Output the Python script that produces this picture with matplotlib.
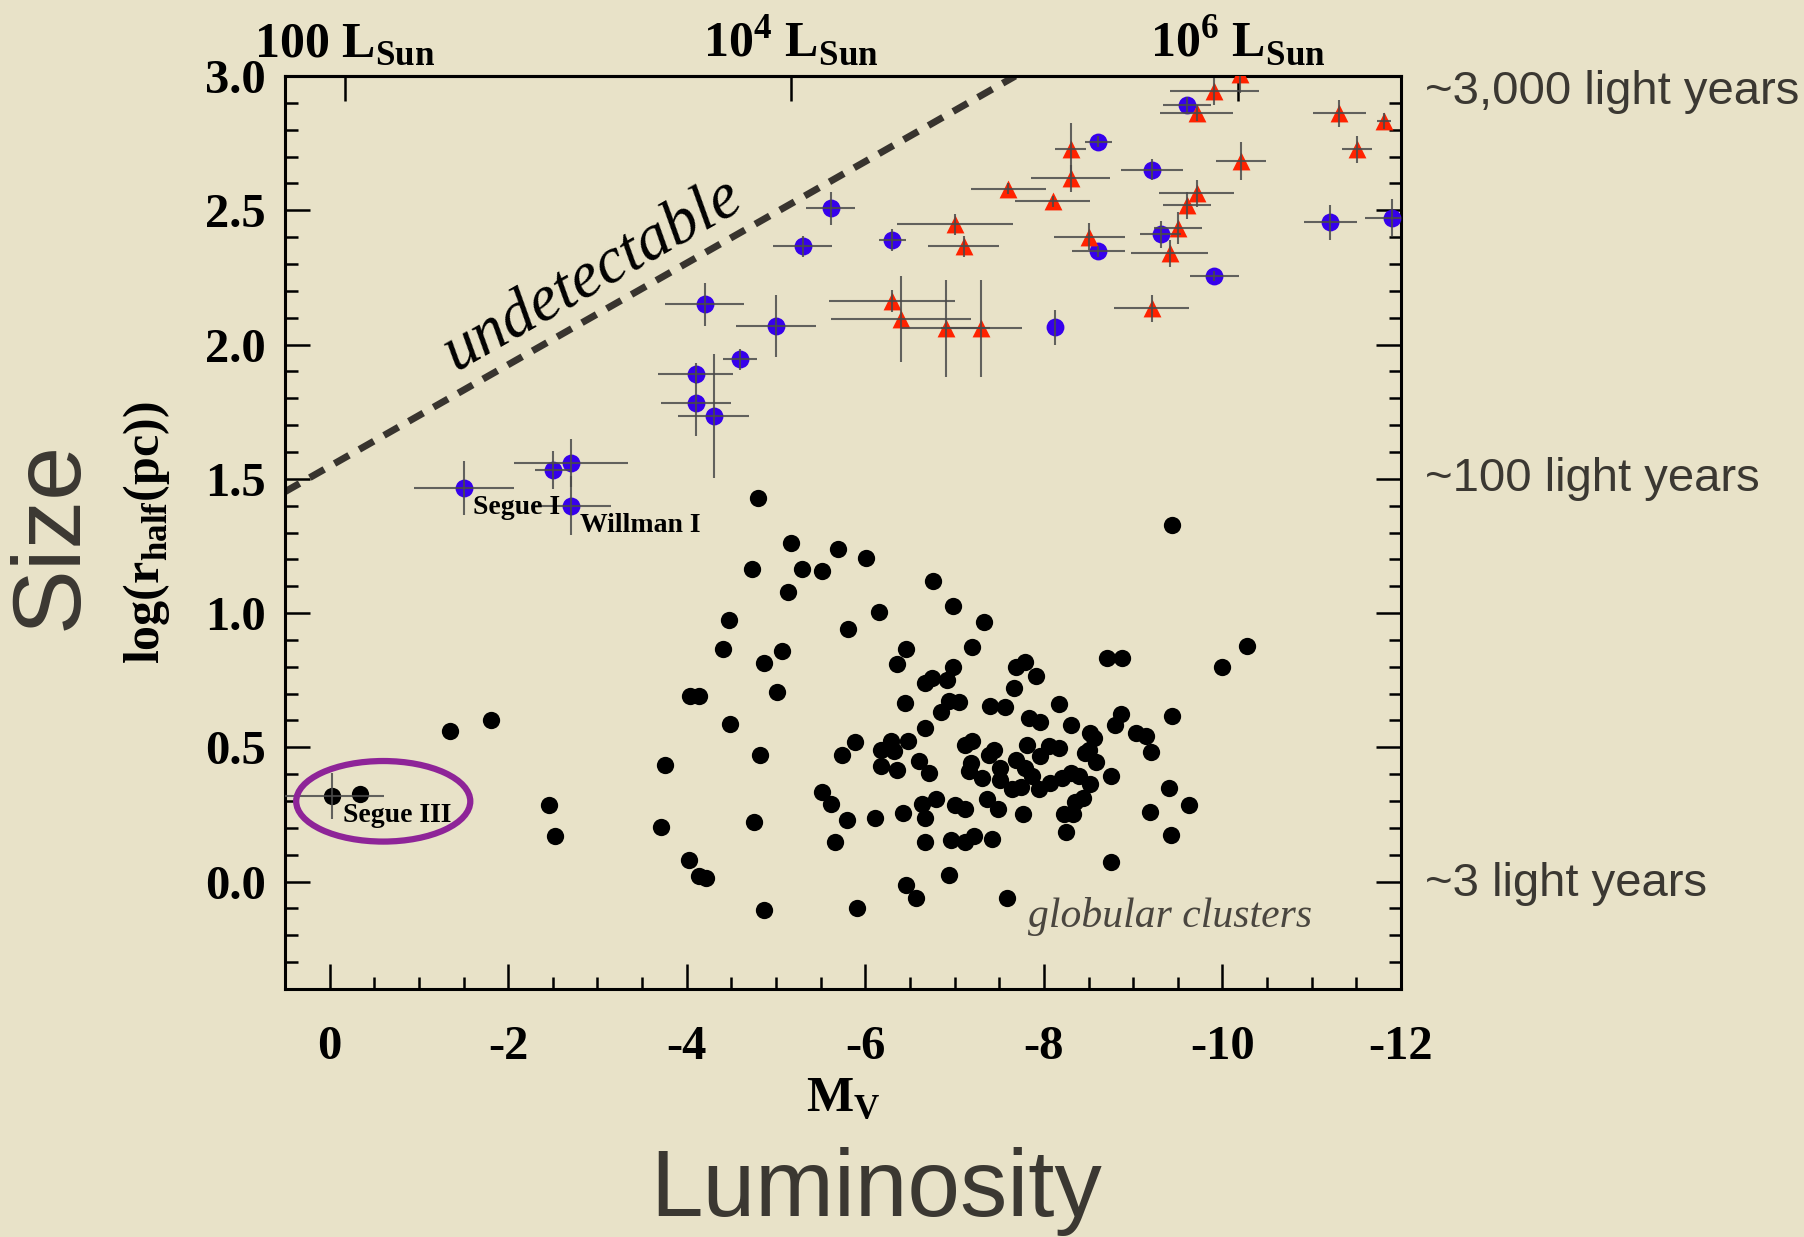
import numpy as np
import matplotlib.pyplot as plt
from matplotlib.patches import Ellipse
from matplotlib.ticker import MultipleLocator, FormatStrFormatter

plt.rcParams['mathtext.fontset'] = 'custom'
plt.rcParams['mathtext.rm'] = 'Liberation Serif:bold'
plt.rcParams['mathtext.bf'] = 'Liberation Serif:bold'

# --- data ----------------------------------------------------------------
# dwarf galaxies (blue circles): Mv, log r_half, errors
dw_mv = [-1.50, -2.50, -2.70, -2.70, -4.10, -4.30, -4.10, -4.20, -4.60, -5.00, -5.30,
         -5.61, -6.30, -8.12, -8.61, -8.61, -9.21, -9.31, -9.60, -9.91, -11.21, -11.90]
dw_logr = [1.465, 1.533, 1.560, 1.399, 1.781, 1.734, 1.892, 2.150, 1.945, 2.069, 2.366,
           2.507, 2.389, 2.065, 2.755, 2.347, 2.652, 2.410, 2.892, 2.255, 2.455, 2.473]
dw_xerr = [0.56, 0.20, 0.64, 0.45, 0.39, 0.40, 0.42, 0.44, 0.19, 0.45, 0.33,
           0.27, 0.15, 0.0, 0.15, 0.30, 0.35, 0.23, 0.27, 0.27, 0.30, 0.30]
dw_yerr = [0.10, 0.07, 0.09, 0.11, 0.12, 0.23, 0.04, 0.08, 0.04, 0.115, 0.04,
           0.06, 0.04, 0.065, 0.02, 0.02, 0.04, 0.05, 0.03, 0.02, 0.065, 0.07]

# red triangles
tri_mv = [-6.30, -6.40, -6.90, -7.30, -7.00, -7.10, -7.60, -8.10, -8.30, -8.30, -8.51,
          -9.91, -10.20, -9.71, -11.31, -11.81, -11.51, -10.21, -9.71, -9.60, -9.50,
          -9.41, -9.21]
tri_logr = [2.162, 2.094, 2.060, 2.060, 2.448, 2.366, 2.581, 2.534, 2.727, 2.619, 2.402,
            2.944, 3.006, 2.864, 2.861, 2.832, 2.727, 2.683, 2.564, 2.518, 2.435,
            2.340, 2.135]
tri_xerr = [0.71, 0.78, 0.50, 0.45, 0.65, 0.40, 0.42, 0.42, 0.17, 0.44, 0.40,
            0.50, 0.0, 0.41, 0.30, 0.08, 0.17, 0.28, 0.42, 0.27, 0.27, 0.43, 0.42]
tri_yerr = [0.04, 0.16, 0.18, 0.18, 0.04, 0.04, 0.02, 0.02, 0.10, 0.05, 0.05,
            0.05, 0.07, 0.03, 0.05, 0.03, 0.05, 0.07, 0.05, 0.05, 0.06, 0.05, 0.05]

# Segue III
seg3_mv = [-0.03, -0.34]
seg3_logr = [0.318, 0.328]
seg3_xerr = [0.58, 0.0]
seg3_yerr = [0.085, 0.0]

# globular clusters
gc_mv = [-1.35, -1.81, -2.46, -2.52, -3.76, -3.71, -4.02, -4.14, -4.21, -4.04, -4.14,
         -4.80, -5.17, -4.73, -5.29, -5.51, -5.69, -6.01, -5.13, -6.76, -6.98, -6.15,
         -5.81, -4.47, -4.41, -5.07, -4.87, -5.01, -6.46, -6.35, -7.20, -6.98, -6.75,
         -6.67, -6.92, -6.44, -6.94, -7.05, -6.85, -6.67, -4.48, -4.82, -5.88, -5.74,
         -6.29, -6.17, -6.32, -6.48, -6.17, -6.36, -6.60, -6.71, -5.51, -5.61, -5.79,
         -6.11, -6.42, -6.64, -6.79, -6.67, -7.00, -7.12, -4.75, -5.66, -6.67, -6.96,
         -7.12, -6.94, -6.45, -6.57, -4.86, -5.91, -9.43, -7.33, -7.69, -7.79, -7.91,
         -7.67, -8.71, -8.88, -10.27, -9.99, -8.17, -7.40, -7.57, -8.86, -8.80, -9.43,
         -7.83, -7.96, -8.30, -8.52, -8.56, -9.03, -9.14, -9.20, -7.20, -7.12, -7.44,
         -7.38, -7.81, -8.06, -8.17, -7.69, -7.96, -8.46, -8.50, -8.58, -7.18, -7.16,
         -7.51, -7.51, -7.31, -7.64, -7.74, -7.87, -7.79, -7.95, -8.07, -8.20, -8.30,
         -8.39, -8.52, -8.75, -7.36, -7.49, -7.77, -8.35, -8.44, -8.22, -8.33, -8.25,
         -9.40, -9.63, -9.19, -9.42, -8.75, -7.59, -7.22, -7.42]
gc_logr = [0.559, 0.602, 0.284, 0.170, 0.433, 0.205, 0.081, 0.020, 0.015, 0.691, 0.691,
           1.430, 1.262, 1.163, 1.163, 1.156, 1.239, 1.204, 1.077, 1.118, 1.026, 1.004,
           0.941, 0.974, 0.868, 0.858, 0.813, 0.705, 0.866, 0.810, 0.873, 0.800, 0.757,
           0.739, 0.751, 0.665, 0.674, 0.668, 0.630, 0.572, 0.587, 0.473, 0.519, 0.473,
           0.522, 0.491, 0.485, 0.522, 0.430, 0.417, 0.448, 0.403, 0.333, 0.288, 0.229,
           0.237, 0.254, 0.288, 0.306, 0.235, 0.284, 0.269, 0.223, 0.146, 0.146, 0.154,
           0.146, 0.024, -0.013, -0.060, -0.105, -0.099, 1.328, 0.967, 0.798, 0.817, 0.767,
           0.720, 0.831, 0.831, 0.877, 0.798, 0.660, 0.655, 0.650, 0.625, 0.584, 0.617,
           0.609, 0.593, 0.584, 0.553, 0.535, 0.553, 0.541, 0.481, 0.522, 0.507, 0.491,
           0.473, 0.510, 0.504, 0.498, 0.454, 0.467, 0.479, 0.491, 0.444, 0.442, 0.411,
           0.424, 0.380, 0.387, 0.343, 0.353, 0.392, 0.424, 0.343, 0.368, 0.387, 0.403,
           0.392, 0.362, 0.395, 0.306, 0.272, 0.253, 0.296, 0.312, 0.251, 0.251, 0.186,
           0.349, 0.284, 0.259, 0.174, 0.074, -0.061, 0.170, 0.160]

# detection limit (dashed line)
limit_mv = [0.5, -7.68]
limit_logr = [1.452, 3.0]

# top axis: luminosities
lum_values = [100, 1e4, 1e6]
lum_labels = ['100 L$_{\\mathrm{Sun}}$', '10$^{\\mathrm{4}}$ L$_{\\mathrm{Sun}}$',
              '10$^{\\mathrm{6}}$ L$_{\\mathrm{Sun}}$']

# physical size annotations on the right
size_text = ['~3,000 light years', '~100 light years', '~3 light years']
size_logr = [2.94, 1.50, -0.01]

# --- figure -----------------------------------------------------------------
bg = '#e8e2c8'
ink = '#3b3832'
serif = 'Liberation Serif'
sans = ['Liberation Sans Narrow', 'Liberation Sans']

fig = plt.figure(figsize=(18.04, 12.37), dpi=100, facecolor=bg)
ax = fig.add_axes([0.158, 0.2005, 0.6186, 0.738], facecolor=bg)
ax.set_xlim(0.5, -12)
ax.set_ylim(-0.4, 3.0)

# detection limit + label
ax.plot(limit_mv, limit_logr, color='#38342f', lw=5, linestyle=(0, (2.4, 1.7)),
        solid_capstyle='butt', zorder=2)
p1 = ax.transData.transform((limit_mv[0], limit_logr[0]))
p2 = ax.transData.transform((limit_mv[1], limit_logr[1]))
angle = np.degrees(np.arctan2(p2[1] - p1[1], p2[0] - p1[0]))
ax.text(-2.95, 2.26, 'undetectable', rotation=angle, rotation_mode='anchor',
        ha='center', va='center', fontsize=47, style='italic', family=serif,
        color='black')

# points
ax.scatter(gc_mv, gc_logr, s=155, color='black', lw=0, zorder=3)
ax.scatter(seg3_mv, seg3_logr, s=155, color='black', lw=0, zorder=3)
ax.scatter(dw_mv, dw_logr, s=165, color='#3600ec', lw=0, zorder=3)
ax.scatter(tri_mv, tri_logr, s=165, marker='^', color='#ff2200', lw=0, zorder=3)

err_kw = dict(fmt='none', ecolor='#4a4a4a', elinewidth=1.5, capsize=0, alpha=0.85, zorder=4)
ax.errorbar(dw_mv, dw_logr, xerr=dw_xerr, yerr=dw_yerr, **err_kw)
ax.errorbar(tri_mv, tri_logr, xerr=tri_xerr, yerr=tri_yerr, **err_kw)
ax.errorbar(seg3_mv, seg3_logr, xerr=seg3_xerr, yerr=seg3_yerr, **err_kw)

# labels of special objects
lab_kw = dict(fontsize=20, fontweight='bold', family=serif, va='center', ha='left', zorder=5)
ax.text(-1.60, 1.392, 'Segue I', **lab_kw)
ax.text(-2.80, 1.326, 'Willman I', **lab_kw)
ax.text(-0.15, 0.245, 'Segue III', **lab_kw)
ax.add_patch(Ellipse((-0.60, 0.299), width=1.95, height=0.30, fill=False,
                     ec='#8e2498', lw=4.5, zorder=5))

ax.text(-9.41, -0.131, 'globular clusters', fontsize=30, style='italic', family=serif,
        color='#4a463f', ha='center', va='center')

# axes styling
for sp in ax.spines.values():
    sp.set_linewidth(2.2)
ax.xaxis.set_major_locator(MultipleLocator(2))
ax.xaxis.set_minor_locator(MultipleLocator(0.5))
ax.yaxis.set_major_locator(MultipleLocator(0.5))
ax.yaxis.set_minor_locator(MultipleLocator(0.1))
ax.yaxis.set_major_formatter(FormatStrFormatter('%.1f'))
ax.xaxis.set_major_formatter(FormatStrFormatter('%d'))
ax.tick_params(which='both', direction='in', top=False, right=True, width=1.8)
ax.tick_params(which='major', length=18)
ax.tick_params(which='minor', length=9)
ax.tick_params(axis='x', which='major', pad=26)
ax.tick_params(axis='y', which='major', pad=14)
for lab in ax.get_xticklabels() + ax.get_yticklabels():
    lab.set_fontsize(35)
    lab.set_fontweight('bold')
    lab.set_family(serif)

ax.set_xlabel('M$_{\\mathrm{V}}$', fontsize=36, fontweight='bold', family=serif)
ax.xaxis.set_label_coords(0.5, -0.12)
ax.xaxis.label.set_va('center')
ax.set_ylabel('log(r$_{\\mathrm{half}}$(pc))', fontsize=36, fontweight='bold', family=serif)
ax.yaxis.set_label_coords(-0.124, 0.5)
ax.yaxis.label.set_va('center')

# top axis in solar luminosities
top = ax.secondary_xaxis('top')
top.set_xticks(4.83 - 2.5 * np.log10(lum_values), labels=lum_labels)
top.minorticks_off()
top.spines['top'].set_linewidth(2.2)
top.tick_params(direction='in', length=18, width=1.8, pad=6)
for lab in top.get_xticklabels():
    lab.set_fontsize(36)
    lab.set_fontweight('bold')
    lab.set_family(serif)

# right-hand size annotations
for txt, yv in zip(size_text, size_logr):
    ax.text(1.0215, yv, txt, transform=ax.get_yaxis_transform(), fontsize=34,
            family=sans, color=ink, ha='left', va='center', clip_on=False)

# big descriptive labels
fig.text(52 / 1804, 1 - 535 / 1237, 'Size', rotation=90, fontsize=70, family=sans,
         color=ink, ha='center', va='center')
fig.text(876 / 1804, 1 - 1191 / 1237, 'Luminosity', fontsize=68, family=sans,
         color=ink, ha='center', va='center')

fig.savefig('out.png', dpi=100, facecolor=bg)
